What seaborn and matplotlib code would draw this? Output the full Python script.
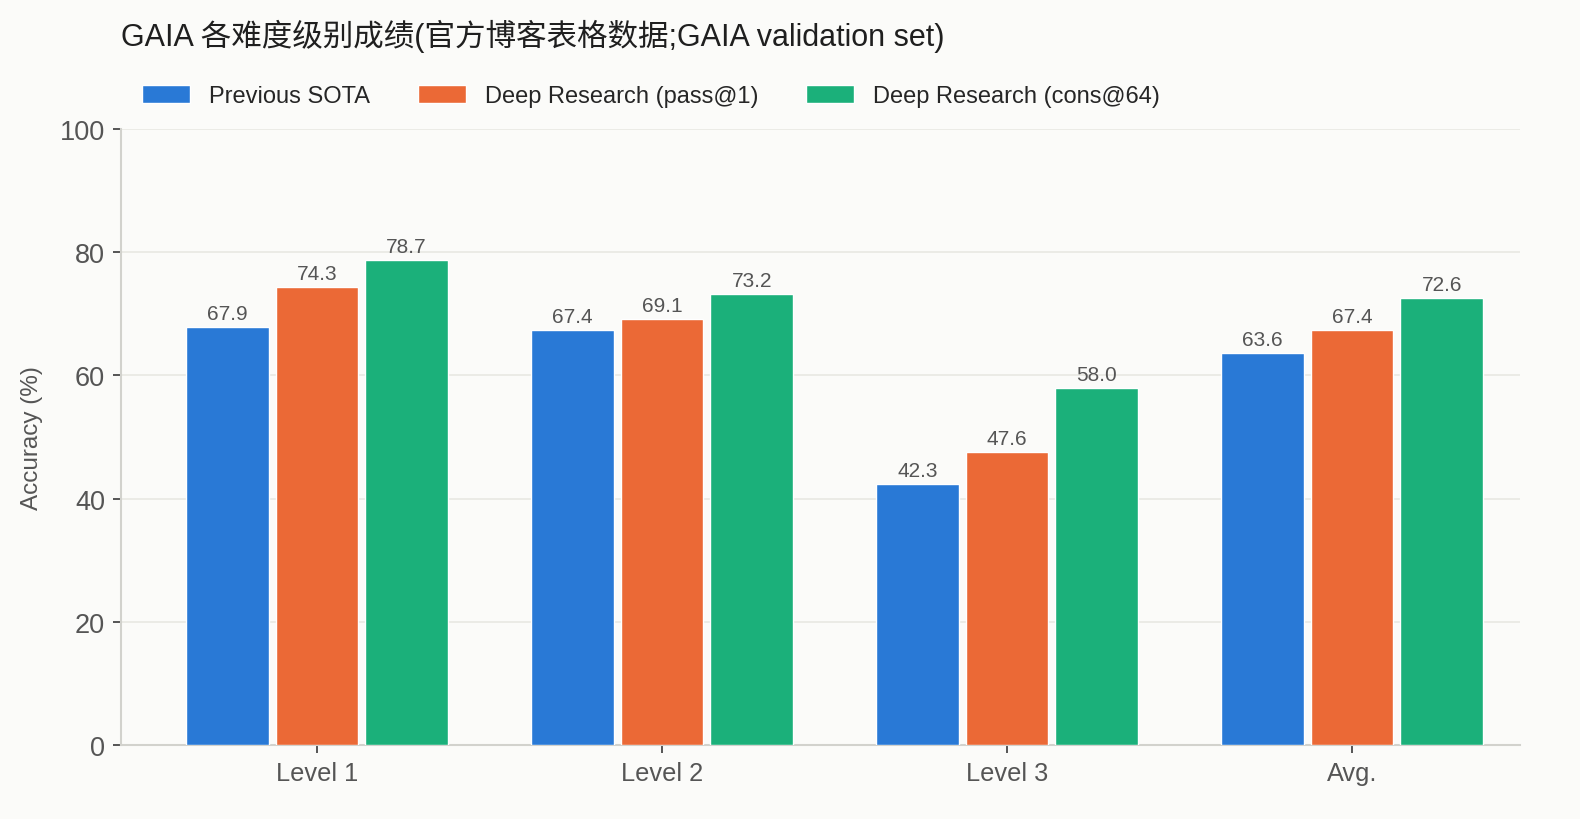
import pandas as pd
import matplotlib
matplotlib.use("Agg")
import matplotlib.pyplot as plt
import seaborn as sns

# Dados do gráfico
niveis = ["Level 1", "Level 2", "Level 3", "Avg."]
series = ["Previous SOTA", "Deep Research (pass@1)", "Deep Research (cons@64)"]
previous_sota = [67.9, 67.4, 42.3, 63.6]
pass_at_1 = [74.3, 69.1, 47.6, 67.4]
cons_at_64 = [78.7, 73.2, 58.0, 72.6]
cores = ["#2979D6", "#EB6936", "#1BB07A"]

df = pd.DataFrame({
    "nivel": niveis * 3,
    "serie": [s for s in series for _ in niveis],
    "valor": previous_sota + pass_at_1 + cons_at_64,
})

sns.set_theme(style="white")
plt.rcParams["font.family"] = ["Liberation Sans", "Noto Sans CJK SC", "DejaVu Sans"]
bg = "#FBFBF9"
cinza = "#555555"

fig = plt.figure(figsize=(15.8, 8.2), dpi=100, facecolor=bg)
ax = fig.add_axes([121 / 1580, 1 - 746 / 820, (1520 - 121) / 1580, (746 - 130) / 820])
ax.set_facecolor(bg)

sns.barplot(data=df, x="nivel", y="valor", hue="serie", order=niveis,
            hue_order=series, palette=cores, width=0.78, gap=0.08,
            saturation=1, ax=ax, zorder=3, legend=True)

for cont in ax.containers:
    ax.bar_label(cont, fmt="%.1f", padding=3, fontsize=15, color=cinza)

ax.set_ylim(0, 100)
ax.set_xlim(-0.568, 3.487)
ax.set_yticks([0, 20, 40, 60, 80, 100])
ax.yaxis.grid(True, color="#E8E8E3", linewidth=1.2, zorder=0)
ax.set_axisbelow(True)

sns.despine(ax=ax)
for lado in ["left", "bottom"]:
    ax.spines[lado].set_color("#D2D2CD")
    ax.spines[lado].set_linewidth(1.5)

ax.tick_params(axis="both", which="both", length=5.5, width=1.4, color=cinza,
               labelcolor=cinza, left=True, bottom=True, pad=6)
ax.tick_params(axis="y", labelsize=19.5)
ax.tick_params(axis="x", labelsize=18.3)
ax.set_xlabel("")
ax.set_ylabel("Accuracy (%)", fontsize=17.5, color=cinza, labelpad=12)

handles, labels = ax.get_legend_handles_labels()
ax.get_legend().remove()
fig.legend(handles, labels, loc="center left", bbox_to_anchor=(142 / 1580, 1 - 97 / 820),
           ncol=3, frameon=False, fontsize=17, handlelength=2.05, handleheight=0.8,
           columnspacing=2.0, handletextpad=0.8, borderpad=0, borderaxespad=0)

fig.text(121 / 1580, 1 - 36 / 820, "GAIA 各难度级别成绩(官方博客表格数据;GAIA validation set)",
         fontsize=22, color="#1f1f1f", ha="left", va="center")

fig.savefig("out.png", dpi=100, facecolor=bg)
